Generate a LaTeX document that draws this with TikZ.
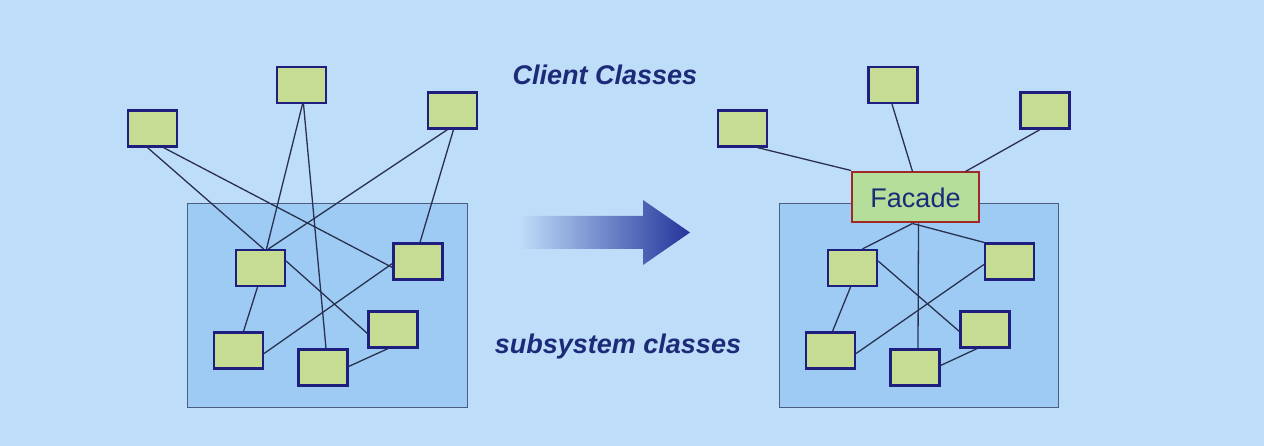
\documentclass[tikz,border=0pt]{standalone}
\usepackage{fontspec}
\setmainfont{Liberation Sans}
\begin{document}
\begin{tikzpicture}[x=1pt,y=-1pt,
  box/.style={draw=boxb,fill=boxf,line width=2.2pt,minimum width=49pt,minimum height=36pt,inner sep=0pt},
  sub/.style={draw=subb,fill=subf,line width=1pt},
  ln/.style={draw=lnc,line width=1.3pt},
  lbl/.style={font=\bfseries\itshape\fontsize{27}{30}\selectfont,text=navy}]
\definecolor{bg}{HTML}{BDDDF9}
\definecolor{boxf}{HTML}{C5DC92}
\definecolor{boxb}{HTML}{1E1E7E}
\definecolor{subf}{HTML}{9DCBF4}
\definecolor{subb}{HTML}{4A5C80}
\definecolor{lnc}{HTML}{2A3050}
\definecolor{navy}{HTML}{1C2A78}
\definecolor{facf}{HTML}{B4DE9A}
\definecolor{facb}{HTML}{A02828}
\definecolor{arr}{HTML}{24349A}
\fill[bg] (0,0) rectangle (1264,446);
\useasboundingbox (0,0) rectangle (1264,446);
% left
\node[sub,minimum width=280pt,minimum height=203pt,inner sep=0pt] (L) at (327,305.5) {};
\node[box] (la) at (152.5,128.5) {};
\node[box] (lb) at (301.5,85) {};
\node[box] (lc) at (452.5,110.5) {};
\node[box] (l1) at (260.5,268) {};
\node[box] (l2) at (418,261.5) {};
\node[box] (l3) at (393,329.5) {};
\node[box] (l4) at (238.5,350.5) {};
\node[box] (l5) at (323,367.5) {};
% right
\node[sub,minimum width=279pt,minimum height=203pt,inner sep=0pt] (R) at (918.5,305.5) {};
\node[box] (ra) at (742.5,128.5) {};
\node[box] (rb) at (893,85) {};
\node[box] (rc) at (1045,110.5) {};
\node[box] (r1) at (852.5,268) {};
\node[box] (r2) at (1009.5,261.5) {};
\node[box] (r3) at (985,329.5) {};
\node[box] (r4) at (830.5,350.5) {};
\node[box] (r5) at (915,367.5) {};
\node[draw=facb,fill=facf,line width=2pt,minimum width=127pt,minimum height=50pt,inner sep=0pt,
  font=\fontsize{27}{30}\selectfont,text=navy] (F) at (915.5,197.5) {Facade};
% left lines
\draw[ln] ([xshift=-5]la.south) -- ([xshift=3]l1.north);
\draw[ln] ([xshift=11]la.south) -- ([yshift=-6]l2.west);
\draw[ln] ([xshift=1]lb.south) -- ([xshift=6]l1.north);
\draw[ln] ([xshift=2]lb.south) -- ([xshift=3]l5.north);
\draw[ln] ([xshift=-5]lc.south) -- ([xshift=8]l1.north);
\draw[ln] ([xshift=1]lc.south) -- ([xshift=2]l2.north);
\draw[ln] ([xshift=-3]l1.south) -- ([xshift=5]l4.north);
\draw[ln] ([yshift=7]l1.east) -- ([yshift=-4]l3.west);
\draw[ln] ([yshift=-2]l2.west) -- ([yshift=-3]l4.east);
\draw[ln] ([yshift=1]l5.east) -- ([xshift=-5]l3.south);
% right lines
\draw[ln] ([xshift=15]ra.south) -- ([yshift=1]F.north west);
\draw[ln] ([xshift=-1]rb.south) -- ([xshift=-3]F.north);
\draw[ln] ([xshift=-5]rc.south) -- ([xshift=50]F.north);
\draw[ln] ([xshift=-3]F.south) -- ([xshift=10]r1.north);
\draw[ln] ([xshift=-3]F.south) -- (r2.north west);
\draw[ln] ([xshift=3]F.south) -- ([xshift=3]r5.north);
\draw[ln] ([yshift=7]r1.east) -- ([yshift=-2]r3.west);
\draw[ln] ([yshift=-3]r2.west) -- ([yshift=-3]r4.east);
\draw[ln] ([xshift=-2]r1.south) -- ([xshift=2]r4.north);
\draw[ln] ([yshift=2]r5.east) -- ([xshift=-8]r3.south);
% arrow
\shade[left color=bg,right color=arr,shading angle=90]
  (520,216) -- (643,216) -- (643,200) -- (690,232.5) -- (643,265) -- (643,249) -- (520,249) -- cycle;
\node[lbl] (t1) at (605,75) {Client Classes};
\node[lbl] (t2) at (618,347) {subsystem classes};
\end{tikzpicture}
\end{document}
